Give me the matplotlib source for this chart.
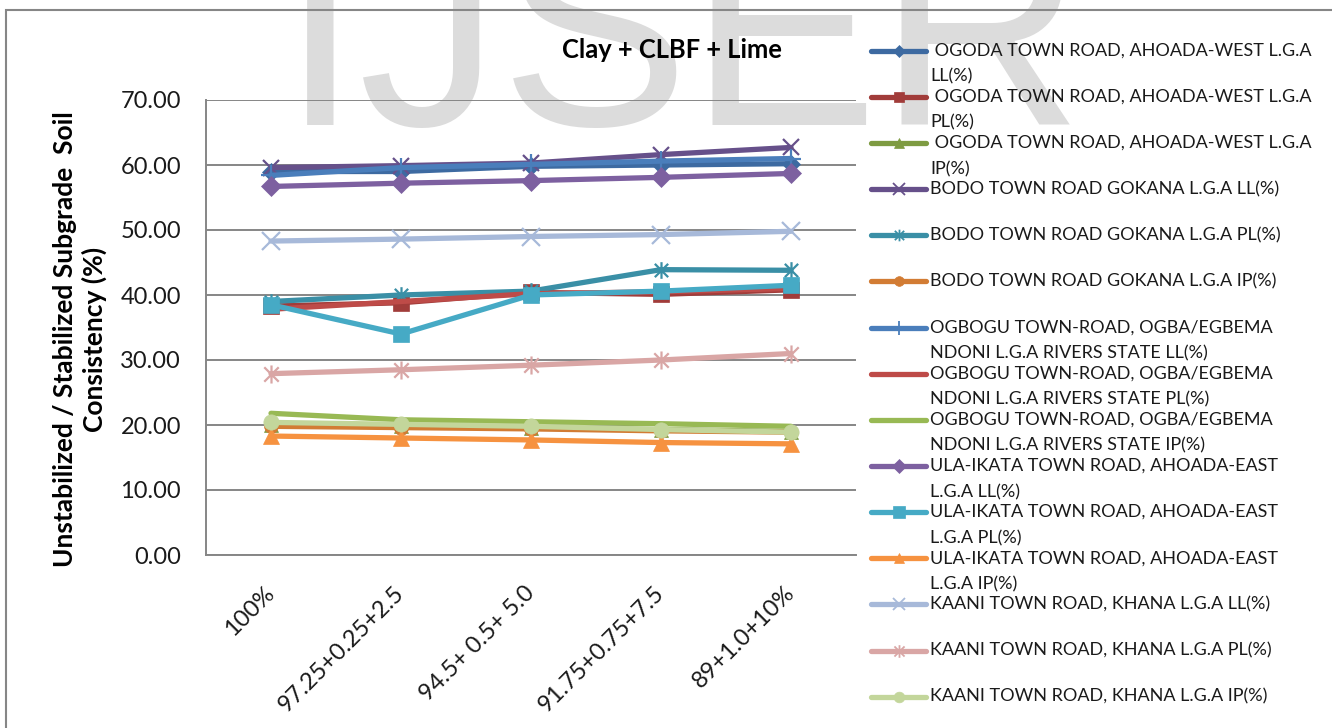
import matplotlib
matplotlib.use("Agg")
import matplotlib.pyplot as plt
from matplotlib.lines import Line2D
from matplotlib.path import Path
from matplotlib.patches import Rectangle

plt.rcParams['font.family'] = ['Lato', 'DejaVu Sans']

# ---------------- data ----------------
categories = ["100%", "97.25+0.25+2.5", "94.5+ 0.5+ 5.0", "91.75+0.75+7.5", "89+1.0+10%"]

ogoda_ll = [59.0, 59.0, 59.8, 60.0, 60.2]
ogoda_pl = [38.3, 38.8, 40.4, 40.1, 40.8]
ogoda_ip = [20.0, 19.8, 19.6, 19.3, 19.0]
bodo_ll = [59.6, 59.9, 60.3, 61.6, 62.7]
bodo_pl = [39.0, 40.0, 40.6, 43.9, 43.8]
bodo_ip = [19.8, 19.6, 19.4, 19.1, 18.9]
ogbogu_ll = [58.4, 59.6, 60.1, 60.6, 61.0]
ogbogu_pl = [37.8, 39.0, 40.2, 40.5, 41.0]
ogbogu_ip = [21.8, 20.8, 20.5, 20.2, 19.8]
ula_ll = [56.7, 57.2, 57.6, 58.1, 58.7]
ula_pl = [38.5, 34.0, 40.0, 40.6, 41.5]
ula_ip = [18.3, 18.0, 17.7, 17.3, 17.1]
kaani_ll = [48.3, 48.6, 49.0, 49.3, 49.8]
kaani_pl = [27.9, 28.5, 29.2, 30.0, 31.0]
kaani_ip = [20.4, 20.1, 19.8, 19.3, 18.9]

series_labels = [
    " OGODA TOWN ROAD, AHOADA-WEST L.G.A\nLL(%)",
    " OGODA TOWN ROAD, AHOADA-WEST L.G.A\nPL(%)",
    " OGODA TOWN ROAD, AHOADA-WEST L.G.A\nIP(%)",
    "BODO TOWN ROAD GOKANA L.G.A LL(%)",
    "BODO TOWN ROAD GOKANA L.G.A PL(%)",
    "BODO TOWN ROAD GOKANA L.G.A IP(%)",
    "OGBOGU TOWN-ROAD, OGBA/EGBEMA\nNDONI L.G.A RIVERS STATE LL(%)",
    "OGBOGU TOWN-ROAD, OGBA/EGBEMA\nNDONI L.G.A RIVERS STATE PL(%)",
    "OGBOGU TOWN-ROAD, OGBA/EGBEMA\nNDONI L.G.A RIVERS STATE IP(%)",
    "ULA-IKATA TOWN ROAD, AHOADA-EAST\nL.G.A LL(%)",
    "ULA-IKATA TOWN ROAD, AHOADA-EAST\nL.G.A PL(%)",
    "ULA-IKATA TOWN ROAD, AHOADA-EAST\nL.G.A IP(%)",
    "KAANI TOWN ROAD, KHANA L.G.A LL(%)",
    "KAANI TOWN ROAD, KHANA L.G.A PL(%)",
    "KAANI TOWN ROAD, KHANA L.G.A IP(%)",
]
series_values = [ogoda_ll, ogoda_pl, ogoda_ip, bodo_ll, bodo_pl, bodo_ip,
                 ogbogu_ll, ogbogu_pl, ogbogu_ip, ula_ll, ula_pl, ula_ip,
                 kaani_ll, kaani_pl, kaani_ip]

y_ticks = [0, 10, 20, 30, 40, 50, 60, 70]

# ---------------- styles ----------------
star = Path([(-1, -1), (1, 1), (-1, 1), (1, -1), (0, -1.25), (0, 1.25)],
            [Path.MOVETO, Path.LINETO, Path.MOVETO, Path.LINETO, Path.MOVETO, Path.LINETO])

colors = ["#3D6AA1", "#A13C3A", "#7E9B42", "#66508A", "#3A8FA6", "#D27C34",
          "#4A7EBB", "#BE4B48", "#98B954", "#7D60A0", "#46AAC5", "#F69240",
          "#A7B9D9", "#D9A6A5", "#C3D69B"]
markers = ["D", "s", "^", "x", star, "o", "+", None, None, "D", "s", "^", "x", star, "o"]
msizes = [9, 11, 10, 12, 12, 10, 14, 0, 0, 10, 12, 11, 13, 13, 11]

W, H = 1332, 728
fig = plt.figure(figsize=(W / 100, H / 100), dpi=100)

# watermark (behind chart)
fig.text(281 / W, 1 - 125 / H, "IJSER", fontsize=204, color="#DCDCDC",
         family="Liberation Sans", ha="left", va="baseline", zorder=-5)

# chart border
fig.add_artist(Rectangle((6 / W, -0.1), 1.2, (1 - 10 / H) + 0.1, transform=fig.transFigure,
                         fill=False, edgecolor="#868686", linewidth=1.5, zorder=-1))

ax = fig.add_axes([206 / W, 1 - 555 / H, 650 / W, 455 / H])
ax.patch.set_alpha(0)

x = list(range(len(categories)))
for vals, c, m, ms in zip(series_values, colors, markers, msizes):
    is_line_marker = m in ("x", "+") or m is star
    ax.plot(x, vals, color=c, linewidth=3.8, marker=m, markersize=ms,
            markeredgewidth=1.6 if is_line_marker else 0.5,
            markerfacecolor=c, markeredgecolor=c, solid_capstyle="round",
            solid_joinstyle="round", zorder=3)

ax.set_xlim(-0.5, len(categories) - 0.5)
ax.set_ylim(0, 70)
ax.set_yticks(y_ticks)
ax.set_yticklabels([f"{v:.2f}" for v in y_ticks])
ax.set_xticks(x)
ax.set_xticklabels(categories, rotation=45, ha="right", va="center", rotation_mode="anchor")
ax.tick_params(axis="y", length=0, pad=18, labelsize=17, labelcolor="#1a1a1a")
ax.tick_params(axis="x", length=0, pad=25, labelsize=17, labelcolor="#1a1a1a")
ax.grid(axis="y", color="#868686", linewidth=1.4, zorder=0)
for s in ("top", "right"):
    ax.spines[s].set_visible(False)
for s in ("left", "bottom"):
    ax.spines[s].set_color("#868686")
    ax.spines[s].set_linewidth(1.4)

fig.text(672 / W, 1 - 50 / H, "Clay + CLBF + Lime", fontsize=18.4, fontweight="bold",
         ha="center", va="center")
fig.text(80 / W, 1 - 339 / H, "Unstabilized / Stabilized Subgrade  Soil\nConsistency (%)",
         fontsize=19, fontweight="bold", rotation=90, ha="center", va="center",
         multialignment="center", linespacing=1.18)

# manual legend (first text line aligned with the handle, as in the source)
y0, dy = 50.7, 46.14
for i, (lab, c, m, ms) in enumerate(zip(series_labels, colors, markers, msizes)):
    yy = 1 - (y0 + i * dy) / H
    is_line_marker = m in ("x", "+") or m is star
    fig.add_artist(Line2D([871 / W, 926 / W], [yy, yy], transform=fig.transFigure,
                          color=c, linewidth=3.8, solid_capstyle="round"))
    if m is not None:
        fig.add_artist(Line2D([898.5 / W], [yy], transform=fig.transFigure, color=c,
                              marker=m, markersize=ms * 0.7, markerfacecolor=c,
                              markeredgecolor=c,
                              markeredgewidth=1.3 if is_line_marker else 0.5))
    lines = lab.split("\n")
    for j, ln in enumerate(lines):
        fig.text(930 / W, yy - j * 26 / H, ln, fontsize=13.0, ha="left", va="center",
                 color="#1a1a1a")

fig.savefig("out.png", dpi=100)
